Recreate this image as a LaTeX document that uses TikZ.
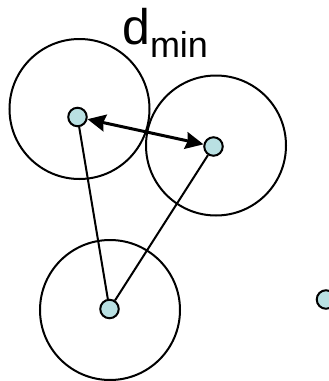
\documentclass[tikz,border=0pt]{standalone}
\usepackage{fontspec}
\setmainfont{Liberation Sans}
\usetikzlibrary{arrows.meta}
\definecolor{dotfill}{RGB}{185,224,226}
\begin{document}
\begin{tikzpicture}[x=1pt,y=-1pt,
  ring/.style={draw=black,line width=2pt,circle,minimum size=140pt,inner sep=0pt},
  pt/.style={draw=black,line width=2pt,fill=dotfill,circle,minimum size=18.5pt,inner sep=0pt},
  link/.style={line width=2pt},
  dist/.style={line width=3pt,{Stealth[length=18pt,width=17pt,inset=2pt]}-{Stealth[length=18pt,width=17pt,inset=2pt]}}]
\useasboundingbox (0,0) rectangle (329,381);
\node[ring] (ca) at (79.5,109) {};
\node[ring] (cb) at (216,145.5) {};
\node[ring] (cc) at (110,310) {};
\node[pt] (a) at (77.5,117) {};
\node[pt] (b) at (213.5,146.5) {};
\node[pt] (c) at (109.5,309) {};
\node[pt] (d) at (326,299.5) {};
\draw[link] (a) -- (c);
\draw[link] (b) -- (c);
\draw[dist] (a) -- (b);
\node[anchor=base west,inner sep=0pt] (lbl) at (122,44.5)
  {\fontsize{50}{50}\selectfont d\raisebox{-12.5pt}{\fontsize{36}{36}\selectfont min}};
\end{tikzpicture}
\end{document}
